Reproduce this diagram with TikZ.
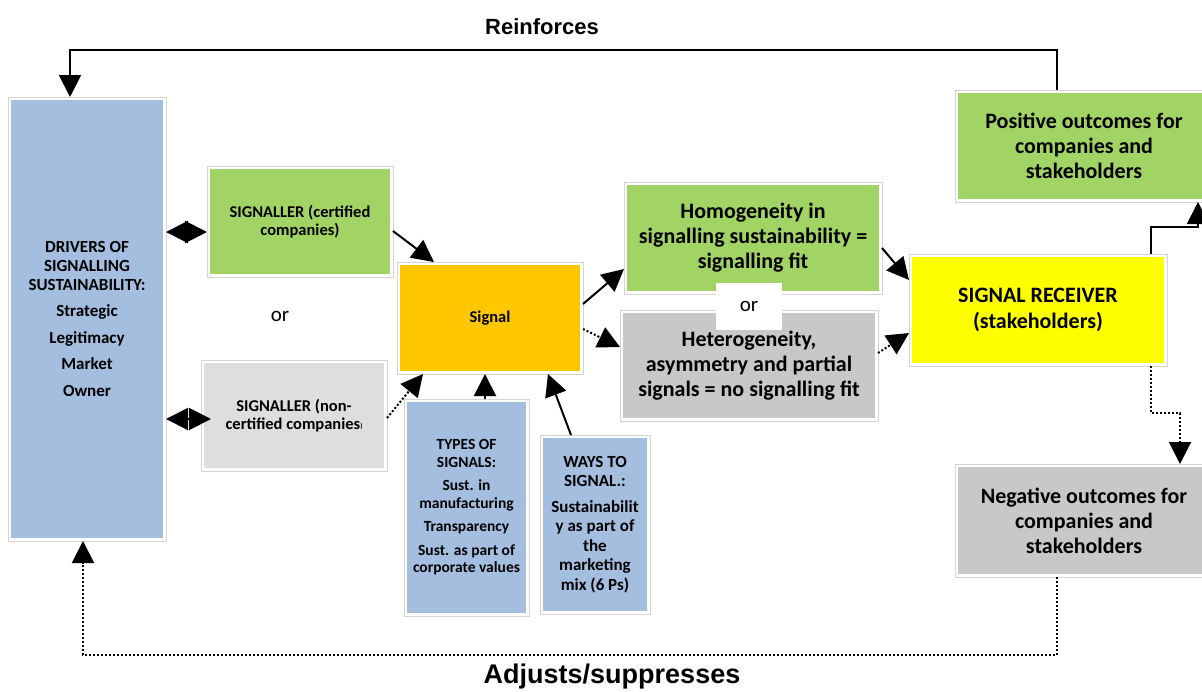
\documentclass[tikz,border=0pt]{standalone}
\usepackage{fontspec}
\setmainfont{Carlito}
\newfontfamily\arialfont{Liberation Sans}
\usetikzlibrary{arrows.meta}
\definecolor{driverblue}{RGB}{163,190,223}
\definecolor{leafgreen}{RGB}{162,211,101}
\definecolor{signalgold}{RGB}{255,199,0}
\definecolor{receiveryellow}{RGB}{255,255,0}
\definecolor{palegray}{RGB}{222,222,222}
\definecolor{midgray}{RGB}{200,200,200}
\definecolor{framegray}{RGB}{212,212,212}
\begin{document}
\begin{tikzpicture}[x=1pt, y=-1pt,
  box/.style={fill=#1, inner sep=0pt, outer sep=3pt, align=center},
  link/.style={line width=2pt, -{Triangle[width=22pt,length=22pt]}},
  dotlink/.style={link, dash pattern=on 2pt off 2pt},
  twoway/.style={line width=2pt, {Triangle[width=22pt,length=22pt]}-{Triangle[width=22pt,length=22pt]}}]
  \path[use as bounding box, clip] (0,0) rectangle (1202,691);

  % Drivers and signallers (left)
  \node[box=driverblue, minimum width=152pt, minimum height=438pt,
        font=\bfseries\fontsize{17}{19}\selectfont] (drivers) at (87,319)
    {DRIVERS OF\\SIGNALLING\\SUSTAINABILITY:\\[7pt]Strategic\\[7.7pt]Legitimacy\\[7.7pt]Market\\[7.7pt]Owner};
  \node[box=leafgreen, minimum width=180pt, minimum height=105pt,
        font=\bfseries\fontsize{16.5}{18.5}\selectfont] (certified) at (300,221.5)
    {SIGNALLER (certified\\companies)};
  \node[box=palegray, minimum width=180pt, minimum height=105pt,
        font=\bfseries\fontsize{16.5}{18.5}\selectfont] (noncert) at (294,415.5)
    {SIGNALLER (non-\\certified companies\raisebox{1pt}{\scriptsize)}};
  \node[font=\fontsize{21}{24}\selectfont] (orleft) at (280,316) {or};

  % Signal and what feeds it (middle)
  \node[box=signalgold, minimum width=180pt, minimum height=106pt,
        font=\bfseries\fontsize{16.5}{19}\selectfont] (signal) at (490,318) {Signal};
  \node[box=driverblue, minimum width=119pt, minimum height=211pt,
        font=\bfseries\fontsize{15.5}{17.5}\selectfont] (types) at (466.5,507.5)
    {TYPES OF\\SIGNALS:\\[6pt]Sust. in\\manufacturing\\[6pt]Transparency\\[6pt]Sust. as part of\\corporate values};
  \node[box=driverblue, minimum width=104pt, minimum height=173pt,
        font=\bfseries\fontsize{17}{19.5}\selectfont] (ways) at (595,524.5)
    {WAYS TO\\SIGNAL.:\\[6pt]Sustainabilit\\y as part of\\the\\marketing\\mix (6 Ps)};

  % Fit or no fit
  \node[box=leafgreen, minimum width=252pt, minimum height=106pt,
        font=\bfseries\fontsize{22}{25}\selectfont] (homog) at (753,238)
    {Homogeneity in\\signalling sustainability =\\signalling fit};
  \node[box=midgray, minimum width=252pt, minimum height=105pt,
        font=\bfseries\fontsize{22}{25}\selectfont] (hetero) at (749,365.5)
    {Heterogeneity,\\asymmetry and partial\\signals = no signalling fit};

  % Receiver and outcomes (right)
  \node[box=receiveryellow, minimum width=252pt, minimum height=106pt,
        font=\bfseries\fontsize{22}{26}\selectfont] (receiver) at (1038,310)
    {SIGNAL RECEIVER\\(stakeholders)};
  \node[box=leafgreen, minimum width=252pt, minimum height=106pt,
        font=\bfseries\fontsize{22}{25}\selectfont] (positive) at (1084,146)
    {Positive outcomes for\\companies and\\stakeholders};
  \node[box=midgray, minimum width=252pt, minimum height=107pt,
        font=\bfseries\fontsize{22}{25}\selectfont] (negative) at (1084,520.5)
    {Negative outcomes for\\companies and\\stakeholders};

  % thin frames round the boxes
  \foreach \n in {drivers,certified,noncert,signal,types,ways,homog,hetero,receiver,positive,negative}
    \draw[framegray, line width=0.8pt] (\n.south west) rectangle (\n.north east);

  \node[fill=white, minimum width=66pt, minimum height=47pt, inner sep=0pt,
        font=\fontsize{21}{24}\selectfont] (ormid) at (749,306.5) {or};

  % loop labels
  \node[font=\arialfont\bfseries\fontsize{22}{26}\selectfont] (reinforces) at (542,27) {Reinforces};
  \node[font=\arialfont\bfseries\fontsize{27}{30}\selectfont] (adjusts) at (612,677) {Adjusts/suppresses};

  % connectors
  \coordinate (c1) at ([yshift=-10.5pt]certified.west);
  \coordinate (c2) at ([xshift=10pt,yshift=-3.5pt]noncert.west);
  \draw[twoway] (c1) -- (drivers.east |- c1);
  \draw[twoway] (c2) -- (drivers.east |- c2);
  \draw[link] ([yshift=-9.5pt]certified.east) -- ([xshift=37pt]signal.north west);
  \draw[dotlink] ([yshift=-2.5pt]noncert.east) -- ([xshift=26pt]signal.south west);
  \draw[link] ([xshift=18.5pt]types.north) -- ([xshift=-5pt]signal.south);
  \draw[link] ([xshift=-24pt]ways.north) -- ([xshift=58pt]signal.south);
  \draw[link] ([yshift=14pt]signal.east) -- ([yshift=-31pt]homog.west);
  \draw[dotlink] ([yshift=-11pt]signal.east) -- ([yshift=18.5pt]hetero.west);
  \draw[link] ([yshift=-10pt]homog.east) -- ([yshift=30pt]receiver.west);
  \draw[dotlink] ([yshift=12.5pt]hetero.east) -- ([yshift=-23pt]receiver.west);
  \draw[link] ([xshift=-16pt]receiver.north east) -- ++(0,-27) -| ([xshift=-15pt]positive.south east);
  \draw[dotlink] ([xshift=-16pt]receiver.south east) -- ++(0,47) -| ([xshift=-33pt]negative.north east);
  \draw[link] ([xshift=-27pt]positive.north) -- ++(0,-40) -| ([xshift=-17pt]drivers.north);
  \draw[dotlink] ([xshift=-27pt]negative.south) -- ++(0,78) -| ([xshift=-4pt]drivers.south);
\end{tikzpicture}
\end{document}
